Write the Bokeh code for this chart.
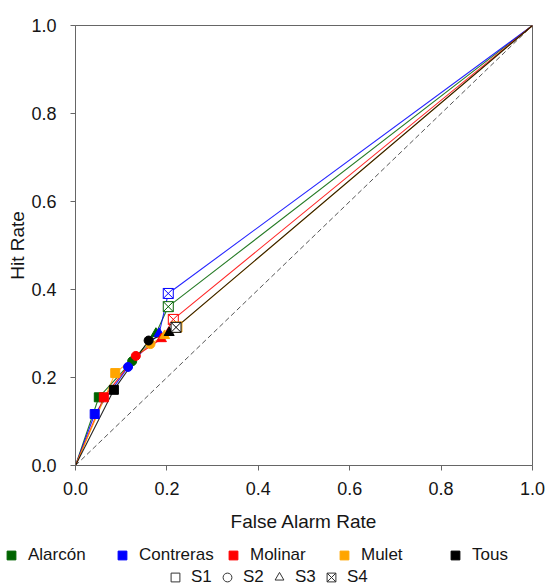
from bokeh.plotting import figure
from bokeh.models import Range1d, FixedTicker, PrintfTickFormatter, Legend, LegendItem
from bokeh.embed import file_html
from bokeh.resources import INLINE

# ---- data -------------------------------------------------------------
series_names = ["Alarcón", "Contreras", "Molinar", "Mulet", "Tous"]
series_colors = ["#006400", "#0000ff", "#ff0000", "#ffa500", "#000000"]
signal_labels = ["S1", "S2", "S3", "S4"]

far_alarcon = [0.051, 0.124, 0.176, 0.203]
hit_alarcon = [0.155, 0.237, 0.300, 0.361]
far_contreras = [0.042, 0.115, 0.183, 0.203]
hit_contreras = [0.117, 0.224, 0.300, 0.391]
far_molinar = [0.062, 0.132, 0.188, 0.214]
hit_molinar = [0.155, 0.249, 0.288, 0.332]
far_mulet = [0.087, 0.164, 0.195, 0.222]
hit_mulet = [0.210, 0.276, 0.295, 0.315]
far_tous = [0.084, 0.160, 0.205, 0.220]
hit_tous = [0.172, 0.284, 0.302, 0.314]

curve_start = [0.0]
curve_end = [1.0]
chance_far = [0.0, 1.0]
chance_hit = [0.0, 1.0]
axis_ticks = [0.0, 0.2, 0.4, 0.6, 0.8, 1.0]

far_all = [far_alarcon, far_contreras, far_molinar, far_mulet, far_tous]
hit_all = [hit_alarcon, hit_contreras, hit_molinar, hit_mulet, hit_tous]

FONT = "Liberation Sans"
TEXT = "#151515"
AXIS = "#666666"

p = figure(width=547, height=535, x_range=Range1d(0, 1), y_range=Range1d(0, 1),
           output_backend="svg", toolbar_location=None,
           min_border_left=75, min_border_right=15, min_border_top=25, min_border_bottom=70,
           x_axis_label="False Alarm Rate", y_axis_label="Hit Rate")
p.grid.visible = False
p.outline_line_color = AXIS
p.outline_line_width = 1
p.background_fill_color = "white"
p.border_fill_color = "white"

for ax in (p.xaxis[0], p.yaxis[0]):
    ax.ticker = FixedTicker(ticks=axis_ticks, minor_ticks=[])
    ax.formatter = PrintfTickFormatter(format="%.1f")
    ax.axis_line_color = AXIS
    ax.major_tick_line_color = AXIS
    ax.major_tick_out = 5
    ax.major_tick_in = 0
    ax.minor_tick_line_color = None
    ax.major_label_text_font = FONT
    ax.major_label_text_font_size = "18px"
    ax.major_label_text_color = TEXT
    ax.axis_label_text_font = FONT
    ax.axis_label_text_font_size = "19px"
    ax.axis_label_text_font_style = "normal"
    ax.axis_label_text_color = TEXT
p.xaxis[0].major_label_standoff = 11
p.xaxis[0].axis_label_standoff = 13
p.yaxis[0].major_label_standoff = 14
p.yaxis[0].axis_label_standoff = 0

p.line(chance_far, chance_hit, line_color="#555555", line_width=1, line_dash="5 3")
for far, hit, col in zip(far_all, hit_all, series_colors):
    p.line(curve_start + far + curve_end, curve_start + hit + curve_end,
           line_color=col, line_width=1.1, line_alpha=0.85)
for far, hit, col in zip(far_all, hit_all, series_colors):
    p.scatter([far[0]], [hit[0]], marker="square", size=9, fill_color=col, line_color=col)
    p.scatter([far[1]], [hit[1]], marker="circle", size=9, fill_color=col, line_color=col)
    p.scatter([far[2]], [hit[2]], marker="triangle", size=10, fill_color=col, line_color=col)
    p.scatter([far[3]], [hit[3]], marker="square_x", size=10, fill_color="white",
              line_color=col, line_width=1)

# ---- legend strip (separate root so its frame spans the full width) ----
lg = figure(width=547, height=53, x_range=Range1d(0, 1), y_range=Range1d(0, 1),
            output_backend="svg", toolbar_location=None,
            min_border_left=0, min_border_right=0, min_border_top=0, min_border_bottom=0,
            x_axis_location=None, y_axis_location=None)
lg.grid.visible = False
lg.outline_line_color = None
lg.background_fill_color = "white"
lg.border_fill_color = "white"

row1_items = []
for far, hit, name, col in zip(far_all, hit_all, series_names, series_colors):
    r = lg.scatter([far[0]], [hit[0]], marker="square", fill_color=col, line_color=col,
                   visible=False)
    row1_items.append(LegendItem(label=name, renderers=[r]))

row2_markers = ["square", "circle", "triangle", "square_x"]
row2_items = []
for i, (lab, mk) in enumerate(zip(signal_labels, row2_markers)):
    r = lg.scatter([far_tous[i]], [hit_tous[i]], marker=mk, fill_color=None,
                   line_color="#333333", line_width=1, visible=False)
    row2_items.append(LegendItem(label=lab, renderers=[r]))

common = dict(orientation="horizontal", padding=0, margin=0, border_line_color=None,
              background_fill_alpha=0, label_text_font=FONT, label_text_font_size="17px",
              label_text_color=TEXT, label_height=18, click_policy="none")

legend1 = Legend(items=row1_items, location=(0, 22), glyph_width=22, glyph_height=22,
                 label_standoff=6, label_width=83, spacing=0, **common)
legend2 = Legend(items=row2_items, location=(164, 0), glyph_width=22, glyph_height=22,
                 label_standoff=5, label_width=21, spacing=4, **common)
lg.add_layout(legend1)
lg.add_layout(legend2)

open("out.html", "w").write(file_html([p, lg], INLINE))
